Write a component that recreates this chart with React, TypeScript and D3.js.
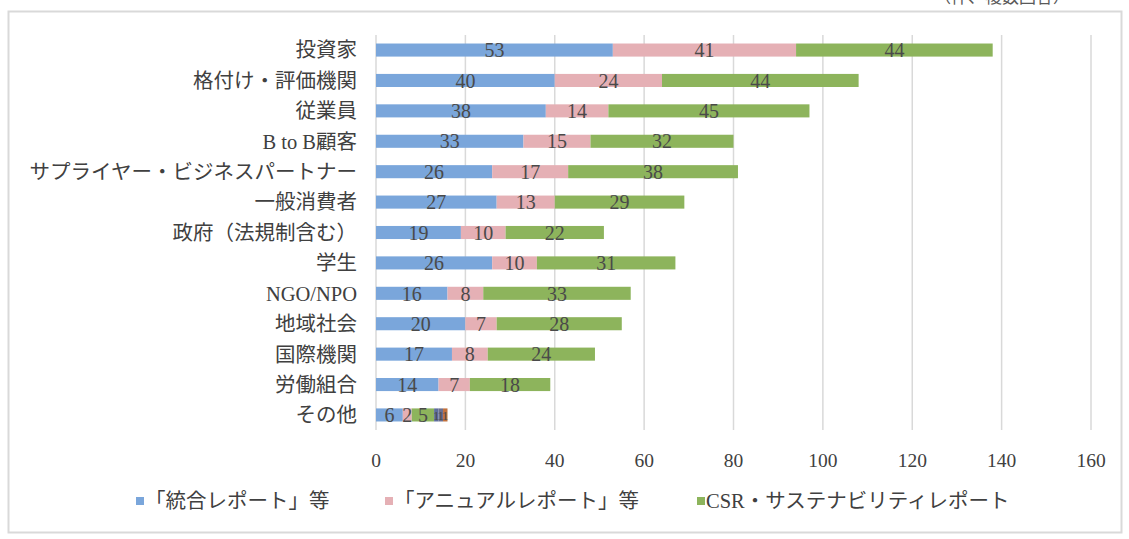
import React from 'react';
import * as d3 from 'd3';

const categories = [
    '投資家',
    '格付け・評価機関',
    '従業員',
    'B to B顧客',
    'サプライヤー・ビジネスパートナー',
    '一般消費者',
    '政府（法規制含む）',
    '学生',
    'NGO/NPO',
    '地域社会',
    '国際機関',
    '労働組合',
    'その他',
];

const integratedReport = [53, 40, 38, 33, 26, 27, 19, 26, 16, 20, 17, 14, 6];
const annualReport = [41, 24, 14, 15, 17, 13, 10, 10, 8, 7, 8, 7, 2];
const csrReport = [44, 44, 45, 32, 38, 29, 22, 31, 33, 28, 24, 18, 5];
// small unlabeled segments that only appear on the last row
const extraA = [0, 0, 0, 0, 0, 0, 0, 0, 0, 0, 0, 0, 1];
const extraB = [0, 0, 0, 0, 0, 0, 0, 0, 0, 0, 0, 0, 1];
const extraC = [0, 0, 0, 0, 0, 0, 0, 0, 0, 0, 0, 0, 1];

const xTicks = [0, 20, 40, 60, 80, 100, 120, 140, 160];

const seriesKeys = ['integrated', 'annual', 'csr', 'extraA', 'extraB', 'extraC'];
const legendNames = ['「統合レポート」等', '「アニュアルレポート」等', 'CSR・サステナビリティレポート'];
const colors = ['#7aa6db', '#e5b0b5', '#8db45c', '#5d6c9c', '#6a6f8f', '#c0703c'];

const serif = '"Liberation Serif", "DejaVu Serif", "Noto Sans CJK JP", serif';
const jp = '"Liberation Serif", "Noto Sans CJK JP", serif';

export default function App() {
    const width = 1129;
    const height = 539;

    const rows = categories.map((c, i) => ({
        category: c,
        integrated: integratedReport[i],
        annual: annualReport[i],
        csr: csrReport[i],
        extraA: extraA[i],
        extraB: extraB[i],
        extraC: extraC[i],
    }));

    const stacked = d3.stack<any>().keys(seriesKeys)(rows);

    const x = d3.scaleLinear().domain([0, 160]).range([376, 1091]);
    const y = d3.scaleBand().domain(categories).range([35, 430]).paddingInner(0.57).paddingOuter(0.28);

    const legendX = [136, 385, 697];

    return (
        <svg
            width={width}
            height={height}
            style={{ position: 'absolute', left: 0, top: 0, background: '#fff' }}
        >
            <text x={1070} y={3} textAnchor="end" fontFamily={jp} fontSize={17} fill="#595959">
                （件、複数回答）
            </text>
            <rect x={8.5} y={11.5} width={1113} height={521} fill="none" stroke="#d9d9d9" strokeWidth={2} />

            {xTicks.map((t) => (
                <line key={t} x1={x(t)} x2={x(t)} y1={35} y2={430} stroke="#d9d9d9" strokeWidth={1.5} />
            ))}

            {stacked.map((s, si) =>
                s.map((d, i) => {
                    const v = d[1] - d[0];
                    if (v <= 0) return null;
                    return (
                        <rect
                            key={`${si}-${i}`}
                            x={x(d[0])}
                            y={y(categories[i])}
                            width={x(d[1]) - x(d[0])}
                            height={y.bandwidth()}
                            fill={colors[si]}
                        />
                    );
                })
            )}

            {stacked.map((s, si) =>
                s.map((d, i) => {
                    const v = d[1] - d[0];
                    if (v <= 0) return null;
                    return (
                        <text
                            key={`l${si}-${i}`}
                            x={x((d[0] + d[1]) / 2)}
                            y={(y(categories[i]) as number) + y.bandwidth() / 2}
                            dy="0.36em"
                            textAnchor="middle"
                            fontFamily={serif}
                            fontSize={si > 2 ? 13 : 20}
                            fill="#4a4a4a"
                        >
                            {v}
                        </text>
                    );
                })
            )}

            {categories.map((c) => (
                <text
                    key={c}
                    x={357}
                    y={(y(c) as number) + y.bandwidth() / 2}
                    dy="0.36em"
                    textAnchor="end"
                    fontFamily={jp}
                    fontSize={20.5}
                    fill="#404040"
                >
                    {c}
                </text>
            ))}

            {xTicks.map((t) => (
                <text
                    key={`t${t}`}
                    x={x(t)}
                    y={460}
                    dy="0.36em"
                    textAnchor="middle"
                    fontFamily={serif}
                    fontSize={19.5}
                    fill="#404040"
                >
                    {t}
                </text>
            ))}

            {legendNames.map((n, i) => (
                <g key={n} transform={`translate(${legendX[i]}, 501)`}>
                    <rect x={0} y={-4} width={8} height={8} fill={colors[i]} />
                    <text x={9} y={0} dy="0.36em" fontFamily={jp} fontSize={20.5} fill="#404040">
                        {n}
                    </text>
                </g>
            ))}
        </svg>
    );
}
